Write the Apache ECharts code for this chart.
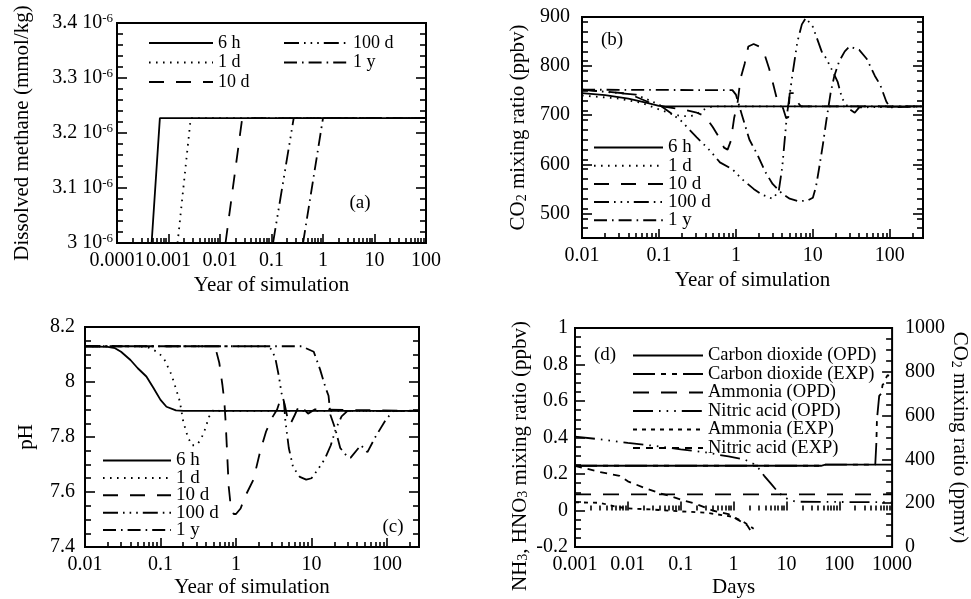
<!DOCTYPE html>
<html><head><meta charset="utf-8">
<script src="https://cdn.jsdelivr.net/npm/echarts@6/dist/echarts.min.js"></script>
<style>html,body{margin:0;padding:0;background:#fff}#c{width:971px;height:599px}</style>
</head><body><div id="c"></div><script>
// ---------------- DATA ----------------
const runNames = ['6 h', '1 d', '10 d', '100 d', '1 y'];
// (a) dissolved methane (mmol/kg) vs years
const a6h  = [[0.00047, 3.0e-6], [0.00068, 3.227e-6], [100, 3.227e-6]];
const a1d  = [[0.0015, 3.0e-6], [0.0027, 3.227e-6], [100, 3.227e-6]];
const a10d = [[0.0128, 3.0e-6], [0.027, 3.227e-6], [100, 3.227e-6]];
const a100d= [[0.107, 3.0e-6], [0.27, 3.227e-6], [100, 3.227e-6]];
const a1y  = [[0.41, 3.0e-6], [1.0, 3.227e-6], [100, 3.227e-6]];
const aXTicks = [0.0001, 0.001, 0.01, 0.1, 1, 10, 100];
const aYTicks = [3.0e-6, 3.1e-6, 3.2e-6, 3.3e-6, 3.4e-6];
// (b) CO2 mixing ratio (ppbv) vs years
const b6h  = [[0.01,745],[0.02,741],[0.04,734],[0.07,725],[0.1,719],[0.12,718],[270,718]];
const b1d  = [[0.01,740],[0.03,734],[0.06,725],[0.1,712],[0.15,702],[0.2,698],[0.26,698],[0.32,704],[0.4,713],[0.5,718],[270,718]];
const b10d = [[0.01,752],[0.04,744],[0.07,728],[0.1,719],[0.2,712],[0.3,706],[0.4,698],[0.5,676],[0.62,652],[0.7,634],[0.78,630],[0.86,648],[0.95,695],[1.05,725],[1.15,775],[1.3,805],[1.45,840],[1.7,845],[2.0,840],[2.4,820],[2.7,795],[3.0,768],[3.4,734],[4.1,714],[4.5,694],[4.8,696],[5.0,745],[5.8,745],[6.2,728],[7,718],[270,718]];
const b100d= [[0.01,752],[0.05,742],[0.1,722],[0.19,690],[0.31,655],[0.46,628],[0.62,604],[0.9,590],[1.2,570],[1.7,550],[2.2,538],[3.0,530],[3.6,545],[4.0,594],[4.6,700],[5.4,780],[6.3,850],[7.2,885],[8.1,898],[10,880],[13,830],[15,815],[18,790],[21,768],[24,734],[30,712],[35,705],[40,716],[270,718]];
const b1y  = [[0.01,752],[0.9,751],[1.0,742],[1.2,700],[1.5,650],[1.9,620],[2.4,585],[3,560],[4,540],[5,530],[6.5,525],[8.5,526],[10,532],[11,555],[12,590],[13.5,640],[15,690],[17,745],[19,780],[22,810],[26,830],[30,840],[40,833],[50,815],[64,780],[75,762],[90,728],[100,716],[270,718]];
const bXTicks = [0.01, 0.1, 1, 10, 100];
const bYTicks = [500, 600, 700, 800, 900];
// (c) pH vs years
const c6h  = [[0.01,8.13],[0.02,8.128],[0.025,8.123],[0.03,8.11],[0.04,8.08],[0.05,8.05],[0.065,8.02],[0.08,7.98],[0.1,7.935],[0.12,7.91],[0.16,7.897],[0.2,7.895],[265,7.895]];
const c1d  = [[0.01,8.13],[0.05,8.13],[0.07,8.125],[0.09,8.11],[0.11,8.088],[0.14,8.026],[0.165,7.964],[0.18,7.93],[0.2,7.856],[0.23,7.8],[0.26,7.77],[0.3,7.77],[0.34,7.79],[0.38,7.82],[0.44,7.874],[0.51,7.9],[0.6,7.895],[265,7.895]];
const c10d = [[0.01,8.13],[0.5,8.13],[0.55,8.11],[0.6,8.07],[0.66,7.99],[0.7,7.93],[0.73,7.85],[0.76,7.75],[0.8,7.62],[0.85,7.55],[0.93,7.52],[1.0,7.52],[1.15,7.54],[1.3,7.58],[1.7,7.645],[2.1,7.75],[2.5,7.82],[3.0,7.87],[3.5,7.9],[3.8,7.93],[4.1,7.945],[4.4,7.92],[4.8,7.87],[5.2,7.845],[6,7.88],[7,7.92],[8,7.9],[9,7.885],[11,7.9],[265,7.895]];
const c100d= [[0.01,8.13],[2.6,8.13],[2.9,8.12],[3.3,8.09],[3.7,8.02],[4.0,7.96],[4.3,7.93],[4.5,7.86],[5,7.76],[5.7,7.69],[7,7.655],[8.5,7.645],[10,7.65],[12,7.68],[15,7.72],[18,7.77],[21,7.83],[25,7.875],[30,7.895],[265,7.895]];
const c1y  = [[0.01,8.13],[7.4,8.13],[10.7,8.11],[13,8.045],[15.3,7.98],[16.8,7.95],[17.8,7.88],[20.6,7.83],[24,7.76],[30,7.727],[33,7.725],[45,7.77],[55,7.745],[70,7.8],[95,7.86],[120,7.895],[265,7.895]];
const cXTicks = [0.01, 0.1, 1, 10, 100];
const cYTicks = [7.4, 7.6, 7.8, 8.0, 8.2];
// (d) mixing ratios vs days
const dNames = ['Carbon dioxide (OPD)', 'Carbon dioxide (EXP)', 'Ammonia (OPD)', 'Nitric acid (OPD)', 'Ammonia (EXP)', 'Nitric acid (EXP)'];
const dCO2opd = [[0.001,371],[45,371],[55,376],[1000,376]];
const dCO2exp = [[0.001,371],[45,371],[55,376],[480,376],[500,380],[505,480],[515,570],[525,600],[560,605],[570,690],[620,700],[660,740],[720,750],[760,770],[820,785],[900,780],[1000,800]];
const dNH3opd = [[0.001,0.088],[1000,0.088]];
const dHNO3opd= [[0.001,0.405],[0.003,0.39],[0.01,0.37],[0.03,0.355],[0.1,0.335],[0.3,0.318],[0.8,0.296],[1.6,0.28],[2.4,0.255],[3,0.23],[3.8,0.19],[5,0.15],[7,0.1],[9,0.075],[11,0.06],[15,0.048],[1000,0.045]];
const dNH3exp = [[0.001,0.045],[0.003,0.042],[0.006,0.02],[0.01,0.012],[0.03,0.005],[0.1,-0.005],[0.3,-0.012],[0.6,-0.025],[1,-0.035],[1.5,-0.06],[2.4,-0.1]];
const dHNO3exp= [[0.001,0.245],[0.003,0.21],[0.007,0.19],[0.01,0.16],[0.02,0.125],[0.04,0.095],[0.07,0.075],[0.1,0.06],[0.2,0.035],[0.4,0.0],[0.8,-0.02],[1.2,-0.05],[1.8,-0.08],[2.1,-0.11]];
const dXTicks = [0.001, 0.01, 0.1, 1, 10, 100, 1000];
const dYTicks = [-0.2, 0, 0.2, 0.4, 0.6, 0.8, 1];
const dY2Ticks = [0, 200, 400, 600, 800, 1000];

// ---------------- STYLE ----------------
const BLACK = '#000';
const FONT = '"Liberation Serif","Times New Roman",serif';
const LW = 1.8;
const TW = 1.6;
const TICK_FS = 20;
const NAME_FS = 21;
const runDash = {
  '6 h': 'solid',
  '1 d': [1.6, 5.4],
  '10 d': [15, 12],
  '100 d': [15, 5, 1.6, 5, 1.6, 5, 1.6, 5],
  '1 y': [13, 5, 1.6, 5]
};
const dDash = {
  'Carbon dioxide (OPD)': 'solid',
  'Carbon dioxide (EXP)': [22, 6, 5, 6, 5, 6],
  'Ammonia (OPD)': [16, 12],
  'Nitric acid (OPD)': [20, 6, 1.6, 6, 1.6, 6, 1.6, 6],
  'Ammonia (EXP)': [4, 5],
  'Nitric acid (EXP)': [7, 6]
};

function minorLog(min, max) {
  const out = [];
  for (let e = Math.floor(Math.log10(min)); e <= Math.ceil(Math.log10(max)); e++) {
    for (let m = 2; m <= 9; m++) {
      const v = +(m * Math.pow(10, e)).toPrecision(6);
      if (v > min && v < max) out.push(v);
    }
  }
  return out;
}
function minorLin(min, max, step, majors) {
  const out = [];
  const n = Math.round((max - min) / step);
  for (let i = 0; i <= n; i++) {
    const v = +(min + i * step).toPrecision(8);
    if (!majors.some(m => Math.abs(m - v) < step * 1e-3)) out.push(v);
  }
  return out;
}
const tickLine = {color: BLACK, width: TW};
const subRich = {sub: {fontFamily: FONT, fontSize: 14, color: BLACK, verticalAlign: 'bottom', lineHeight: 14}};
const nameStyle = {fontFamily: FONT, fontSize: NAME_FS, color: BLACK, rich: subRich};
function fmtNum(v) { return String(+(+v).toPrecision(6)); }

function xAxes(gi, min, max, majors, name, nameGap) {
  return [
    {type: 'log', logBase: 10, gridIndex: gi, min: min, max: max, position: 'bottom',
     axisLine: {show: false}, splitLine: {show: false},
     axisTick: {inside: true, length: 9, customValues: majors, lineStyle: tickLine},
     axisLabel: {customValues: majors, margin: 8, color: BLACK, fontFamily: FONT, fontSize: TICK_FS, formatter: fmtNum},
     name: name, nameLocation: 'middle', nameGap: nameGap, nameTextStyle: nameStyle},
    {type: 'log', logBase: 10, gridIndex: gi, min: min, max: max, position: 'bottom',
     axisLine: {show: false}, splitLine: {show: false},
     axisTick: {inside: true, length: 5, customValues: minorLog(min, max), lineStyle: tickLine},
     axisLabel: {show: false}}
  ];
}
function yAxisPair(gi, min, max, majors, step, pos, label, name, nameGap, nameRotate) {
  const major = {type: 'value', gridIndex: gi, min: min, max: max, position: pos,
    axisLine: {show: false}, splitLine: {show: false},
    axisTick: {inside: true, length: 10, customValues: majors, lineStyle: tickLine},
    axisLabel: label ? Object.assign({customValues: majors, color: BLACK, fontFamily: FONT, fontSize: TICK_FS, formatter: fmtNum}, label) : {show: false}};
  if (name) {
    major.name = name; major.nameLocation = 'middle'; major.nameGap = nameGap; major.nameTextStyle = nameStyle;
    if (nameRotate != null) major.nameRotate = nameRotate;
  }
  const minor = {type: 'value', gridIndex: gi, min: min, max: max, position: pos,
    axisLine: {show: false}, splitLine: {show: false},
    axisTick: {inside: true, length: 6, customValues: minorLin(min, max, step, majors), lineStyle: tickLine},
    axisLabel: {show: false}};
  return [major, minor];
}

const grids = [
  {left: 117, top: 23, width: 309, height: 220},
  {left: 582, top: 17, width: 341, height: 221},
  {left: 85, top: 327, width: 334, height: 221},
  {left: 575, top: 328, width: 322, height: 220}
].map(g => Object.assign({show: true, borderColor: BLACK, borderWidth: 2, backgroundColor: 'transparent'}, g));

const xAxis = [].concat(
  xAxes(0, 0.0001, 100, aXTicks, 'Year of simulation', 32),
  xAxes(1, 0.01, 270, bXTicks, 'Year of simulation', 32),
  xAxes(2, 0.01, 265, cXTicks, 'Year of simulation', 30),
  xAxes(3, 0.001, 1000, dXTicks, 'Days', 30)
);

const aLabel = {margin: 4, formatter: v => '{m|' + (Math.round(v * 1e7) / 10) + ' 10}{s|-6}',
  rich: {m: {fontFamily: FONT, fontSize: TICK_FS, color: BLACK, lineHeight: 22},
         s: {fontFamily: FONT, fontSize: 13, color: BLACK, lineHeight: 13, verticalAlign: 'top'}}};

const yAxis = [].concat(
  yAxisPair(0, 3.0e-6, 3.4e-6, aYTicks, 0.02e-6, 'left', aLabel, 'Dissolved methane (mmol/kg)', 84),
  yAxisPair(0, 3.0e-6, 3.4e-6, aYTicks, 0.02e-6, 'right', null),
  yAxisPair(1, 450, 900, bYTicks, 20, 'left', {margin: 12}, 'CO{sub|2} mixing ratio (ppbv)', 53),
  yAxisPair(1, 450, 900, bYTicks, 20, 'right', null),
  yAxisPair(2, 7.4, 8.2, cYTicks, 0.05, 'left', {margin: 10}, 'pH', 48),
  yAxisPair(2, 7.4, 8.2, cYTicks, 0.05, 'right', null),
  yAxisPair(3, -0.2, 1, dYTicks, 0.05, 'left', {margin: 7}),
  yAxisPair(3, 0, 1000, dY2Ticks, 50, 'right', {margin: 13}, 'CO{sub|2} mixing ratio (ppmv)', 53, -90)
);

function line(name, data, xi, yi, dash) {
  return {type: 'line', name: name, data: data, xAxisIndex: xi, yAxisIndex: yi,
    symbol: 'none', smooth: false, animation: false,
    lineStyle: {color: BLACK, width: LW, type: dash, cap: 'butt'},
    itemStyle: {color: 'rgba(0,0,0,0)', borderWidth: 0}, emphasis: {disabled: true}};
}
const series = [];
[[a6h, a1d, a10d, a100d, a1y], [b6h, b1d, b10d, b100d, b1y], [c6h, c1d, c10d, c100d, c1y]].forEach((set, p) => {
  set.forEach((d, i) => series.push(line(runNames[i], d, p * 2, p * 4, runDash[runNames[i]])));
});
const dData = [dCO2opd, dCO2exp, dNH3opd, dHNO3opd, dNH3exp, dHNO3exp];
dData.forEach((d, i) => {
  series.push(line(dNames[i], d, 6, i < 2 ? 14 : 12, dDash[dNames[i]]));
});

function legend(names, left, top, gap, w, fs) {
  return {data: names, left: left, top: top, orient: 'vertical', padding: 0,
    itemWidth: w, itemHeight: 12, itemGap: gap, selectedMode: false,
    itemStyle: {color: 'rgba(0,0,0,0)', borderColor: 'rgba(0,0,0,0)', borderWidth: 0},
    textStyle: {fontFamily: FONT, fontSize: fs, color: BLACK}};
}
const legends = [
  legend(['6 h', '1 d', '10 d'], 148, 34, 1.5, 64, 18),
  legend(['100 d', '1 y'], 283, 34, 1.5, 64, 18),
  legend(runNames, 593, 138, -0.8, 69, 19),
  legend(runNames, 102, 451, -1.6, 68, 19),
  legend(dNames, 632, 346, -0.5, 70, 18.5)
];

function label(txt, x, y) {
  return {type: 'text', x: x, y: y, silent: true,
    style: {text: txt, font: '19px ' + FONT, fill: BLACK, align: 'center', verticalAlign: 'middle'}};
}

const chart = echarts.init(document.getElementById('c'), null, {renderer: 'canvas'});
chart.setOption({
  animation: false,
  backgroundColor: '#fff',
  grid: grids,
  xAxis: xAxis,
  yAxis: yAxis,
  legend: legends,
  series: series,
  graphic: [
    label('(a)', 360, 203), label('(b)', 612, 40), label('(c)', 393, 527), label('(d)', 605, 355),
    {type: 'text', x: 520, y: 456, rotation: Math.PI / 2, silent: true,
     style: {text: 'NH{sub|3}, HNO{sub|3} mixing ratio (ppbv)', rich: subRich,
             fontFamily: FONT, fontSize: NAME_FS, fill: BLACK, align: 'center', verticalAlign: 'middle'}}
  ]
});
</script></body></html>
